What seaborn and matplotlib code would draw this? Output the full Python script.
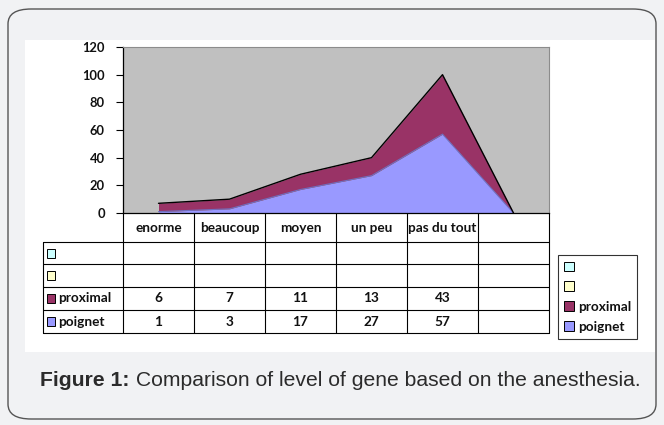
import matplotlib
matplotlib.use("Agg")
import matplotlib.pyplot as plt
from matplotlib.patches import FancyBboxPatch, Rectangle, Patch
import pandas as pd
import seaborn as sns

# ── data ──────────────────────────────────────────────────────────────────────
categories = ["enorme", "beaucoup", "moyen", "un peu", "pas du tout", ""]
proximal = [6, 7, 11, 13, 43, 0]
poignet = [1, 3, 17, 27, 57, 0]
series_names = ["", "", "proximal", "poignet"]
series_colors = ["#ccffff", "#ffffcc", "#993366", "#9999ff"]
yticks = [0, 20, 40, 60, 80, 100, 120]
caption_bold = "Figure 1:"
caption_rest = " Comparison of level of gene based on the anesthesia."

df = pd.DataFrame({"cat": categories, "proximal": proximal, "poignet": poignet})
df["x"] = range(len(df))
df["x"] = df["x"] + 0.5
df["top"] = df["poignet"] + df["proximal"]

sns.set_theme(style="white")
plt.rcParams["font.family"] = ["Lato", "DejaVu Sans"]

W, H = 664, 425
fig = plt.figure(figsize=(W / 100, H / 100), dpi=100)
fig.patch.set_facecolor("#f1f2f4")


def px(x0, y0, x1, y1):
    # pixel box (top-left origin) -> figure fraction rect
    return [x0 / W, 1 - y1 / H, (x1 - x0) / W, (y1 - y0) / H]


# rounded outer frame + white panel (drawn underneath the axes)
fig.patches.append(FancyBboxPatch((8 / W, 6 / H), 648 / W, 410 / H,
                                  boxstyle="round,pad=0,rounding_size=0.035",
                                  transform=fig.transFigure, facecolor="#f1f2f4",
                                  edgecolor="#555555", linewidth=1.0, zorder=-2))
fig.patches.append(Rectangle((25 / W, 1 - 352 / H), 630 / W, 312 / H,
                             transform=fig.transFigure, facecolor="white",
                             edgecolor="none", zorder=-1))

txt_size = 9.8
txt_col = "#111111"

# ── area chart ────────────────────────────────────────────────────────────────
ax = fig.add_axes(px(123, 47, 549, 213))
ax.set_zorder(2)
ax.set_facecolor("#c0c0c0")
ax.fill_between(df["x"], 0, df["poignet"], color="#9999ff", linewidth=0, zorder=2)
ax.fill_between(df["x"], df["poignet"], df["top"], color="#993366", linewidth=0, zorder=2)
sns.lineplot(data=df, x="x", y="poignet", ax=ax, color="#6f6fbf", linewidth=0.8, zorder=3)
sns.lineplot(data=df, x="x", y="top", ax=ax, color="black", linewidth=1.0, zorder=3)
ax.set_xlim(0, len(categories))
ax.set_ylim(0, 120)
ax.set_xticks([])
ax.set_yticks(yticks)
ax.set_yticklabels([str(v) for v in yticks], fontsize=9.3, fontweight="bold", color=txt_col)
ax.tick_params(axis="y", length=5, width=0.8, color="black", pad=8, left=True)
ax.set_xlabel("")
ax.set_ylabel("")
for s in ["top", "right"]:
    ax.spines[s].set_color("#8c8c8c")
    ax.spines[s].set_linewidth(0.8)
ax.spines["left"].set_color("black")
ax.spines["left"].set_linewidth(0.9)
ax.spines["bottom"].set_color("black")
ax.spines["bottom"].set_linewidth(0.9)

# ── data table below the chart ────────────────────────────────────────────────
lab_w = 80 / 71
tax = fig.add_axes(px(43, 213, 549, 333))
tax.set_zorder(2)
tax.set_xlim(-lab_w, len(categories))
tax.set_ylim(120, 0)
tax.axis("off")
rows_y = [0, 29, 51, 74, 97, 120]
lc = dict(color="black", linewidth=0.8, clip_on=False)
for yb in rows_y[1:]:
    tax.plot([-lab_w, len(categories)], [yb, yb], **lc)
tax.plot([-lab_w, -lab_w], [29, 120], **lc)
for i in range(len(categories) + 1):
    tax.plot([i, i], [0, 120], **lc)

for i, c in enumerate(categories):
    tax.text(i + 0.5, 14.5, c, ha="center", va="center", fontsize=txt_size,
             fontweight="bold", color=txt_col)

row_values = [None, None, proximal, poignet]
for r, (name, colr, vals) in enumerate(zip(series_names, series_colors, row_values)):
    yc = (rows_y[r + 1] + rows_y[r + 2]) / 2
    tax.add_patch(Rectangle((-lab_w + 0.05, yc - 4.5), 0.12, 9, facecolor=colr,
                            edgecolor="black", linewidth=0.7, clip_on=False))
    tax.text(-lab_w + 0.21, yc, name, ha="left", va="center", fontsize=txt_size,
             fontweight="bold", color=txt_col)
    if vals is not None:
        for i, v in enumerate(vals[:-1]):
            tax.text(i + 0.5, yc, str(v), ha="center", va="center", fontsize=txt_size,
                     fontweight="bold", color=txt_col)

# ── legend ────────────────────────────────────────────────────────────────────
handles = [Patch(facecolor=c, edgecolor="black", linewidth=0.7) for c in series_colors]
leg = fig.legend(handles, series_names, loc="upper left",
                 bbox_to_anchor=(558 / W, 1 - 255 / H), frameon=True, fancybox=False,
                 prop={"family": ["Lato", "DejaVu Sans"], "size": txt_size, "weight": "bold"},
                 handlelength=0.7, handleheight=0.7, handletextpad=0.3,
                 labelspacing=0.58, borderpad=0.45, borderaxespad=0)
leg.set_zorder(3)
leg.get_frame().set_edgecolor("black")
leg.get_frame().set_linewidth(0.8)
for t in leg.get_texts():
    t.set_color(txt_col)

# ── caption ───────────────────────────────────────────────────────────────────
cap_font = ["Liberation Sans", "DejaVu Sans"]
t1 = fig.text(40 / W, 1 - 386 / H, caption_bold, fontsize=15.2, fontweight="bold",
              family=cap_font, color="#2b2b2b", va="baseline", ha="left")
fig.canvas.draw()
bb = t1.get_window_extent(fig.canvas.get_renderer())
fig.text(bb.x1 / W, 1 - 386 / H, caption_rest, fontsize=15.2, family=cap_font,
         color="#2b2b2b", va="baseline", ha="left")

fig.savefig("out.png", dpi=100, facecolor=fig.get_facecolor())
